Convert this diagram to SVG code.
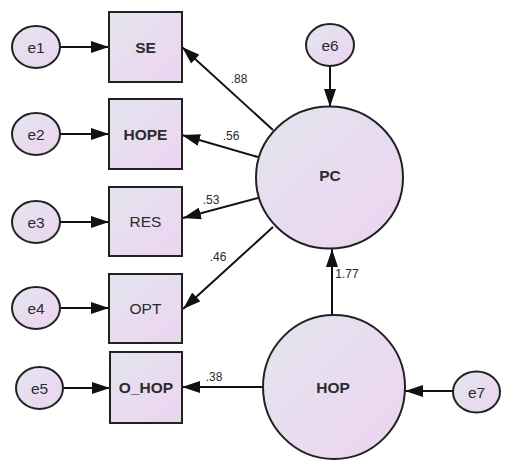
<svg xmlns="http://www.w3.org/2000/svg" width="513" height="465" viewBox="0 0 513 465">
<defs>
<linearGradient id="g" x1="0" y1="0" x2="1" y2="1">
<stop offset="0" stop-color="#e3e5ee"/>
<stop offset="1" stop-color="#edd3f1"/>
</linearGradient>
<marker id="ah" markerUnits="userSpaceOnUse" markerWidth="19" markerHeight="12" refX="18" refY="6" orient="auto">
<path d="M0,0 L18,6 L0,12 Z" fill="#111"/>
</marker>
</defs>
<style>
.n{fill:url(#g);stroke:#222;stroke-width:2}
.t{font-family:"Liberation Sans",Arial,sans-serif;font-size:15.5px;fill:#2b2b2b;text-anchor:middle;dominant-baseline:central}
.b{font-weight:bold}
.c{stroke:#111;stroke-width:2;fill:none;marker-end:url(#ah)}
.l{font-family:"Liberation Sans",Arial,sans-serif;font-size:12px;fill:#2b2b2b;text-anchor:middle;dominant-baseline:central}
</style>
<rect width="513" height="465" fill="#fff"/>
<g id="connectors">
<line class="c" x1="60" y1="47" x2="109" y2="47"/>
<line class="c" x1="60" y1="134" x2="109" y2="134"/>
<line class="c" x1="60" y1="222" x2="109" y2="222"/>
<line class="c" x1="60" y1="308" x2="109" y2="308"/>
<line class="c" x1="63" y1="388" x2="110" y2="388"/>
<line class="c" x1="330" y1="66" x2="330" y2="107"/>
<line class="c" x1="453" y1="391" x2="405" y2="391"/>
<line class="c" x1="332" y1="315" x2="332" y2="249"/>
<line class="c" x1="263" y1="387" x2="182" y2="387"/>
<line class="c" x1="273" y1="130" x2="182" y2="47"/>
<line class="c" x1="258" y1="157" x2="182" y2="135"/>
<line class="c" x1="258" y1="198" x2="183" y2="218"/>
<line class="c" x1="273" y1="227" x2="183" y2="309"/>
<text class="l" x="239" y="79">.88</text>
<text class="l" x="231" y="136">.56</text>
<text class="l" x="211" y="200">.53</text>
<text class="l" x="218" y="257">.46</text>
<text class="l" x="214" y="377">.38</text>
<text class="l" x="347" y="274">1.77</text>
</g>
<g id="e1"><ellipse class="n" cx="36" cy="47" rx="24" ry="21"/><text class="t" x="36" y="47">e1</text></g>
<g id="e2"><ellipse class="n" cx="36" cy="134" rx="24" ry="21"/><text class="t" x="36" y="134">e2</text></g>
<g id="e3"><ellipse class="n" cx="36" cy="222" rx="24" ry="21"/><text class="t" x="36" y="222">e3</text></g>
<g id="e4"><ellipse class="n" cx="36" cy="308" rx="24" ry="21"/><text class="t" x="36" y="308">e4</text></g>
<g id="e5"><ellipse class="n" cx="39.5" cy="388" rx="23.5" ry="21"/><text class="t" x="39.5" y="388">e5</text></g>
<g id="e6"><ellipse class="n" cx="330" cy="45" rx="24" ry="21"/><text class="t" x="330" y="45">e6</text></g>
<g id="e7"><ellipse class="n" cx="476.5" cy="392" rx="23.5" ry="20.5"/><text class="t" x="476.5" y="392">e7</text></g>
<g id="SE"><rect class="n" x="109" y="12" width="73" height="70"/><text class="t b" x="145.5" y="47">SE</text></g>
<g id="HOPE"><rect class="n" x="109" y="99" width="73" height="70"/><text class="t b" x="145.5" y="134">HOPE</text></g>
<g id="RES"><rect class="n" x="109" y="187" width="73" height="69"/><text class="t" x="145.5" y="221">RES</text></g>
<g id="OPT"><rect class="n" x="109" y="274" width="73" height="69"/><text class="t" x="145.5" y="308">OPT</text></g>
<g id="O_HOP"><rect class="n" x="110" y="352" width="72" height="71"/><text class="t b" x="146" y="387">O_HOP</text></g>
<g id="PC"><ellipse class="n" cx="329.5" cy="177.5" rx="73.5" ry="71"/><text class="t b" x="330" y="175">PC</text></g>
<g id="HOP"><ellipse class="n" cx="334" cy="387" rx="71" ry="72"/><text class="t b" x="333" y="387">HOP</text></g>
</svg>
